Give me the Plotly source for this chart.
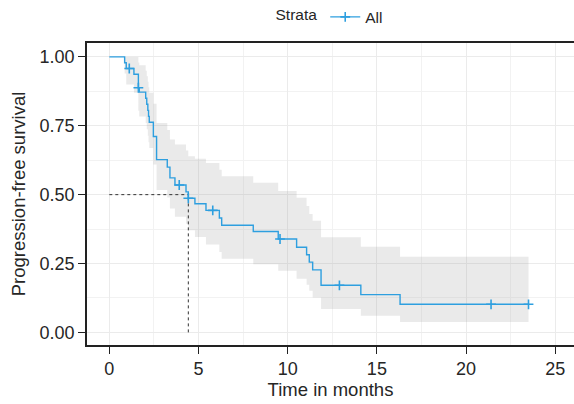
import numpy as np
import plotly.graph_objects as go

# ---- data ----
event_times = [0, 0.86, 0.95, 1.38, 1.63, 1.68, 2.04, 2.10, 2.16, 2.20, 2.24, 2.47, 2.65,
               3.25, 3.40, 3.68, 4.30, 4.43, 4.80, 5.42, 6.17, 6.30, 8.07, 9.47, 10.50,
               11.06, 11.21, 11.40, 11.87, 14.10, 16.30]
survival = [1.0, 0.979, 0.958, 0.937, 0.888, 0.872, 0.850, 0.828, 0.806, 0.784, 0.763, 0.711, 0.627,
            0.600, 0.561, 0.535, 0.510, 0.487, 0.467, 0.443, 0.415, 0.389, 0.366, 0.339, 0.309,
            0.282, 0.255, 0.227, 0.171, 0.137, 0.102]
upper_ci = [1.0, 1.0, 1.0, 1.0, 0.98, 0.97, 0.95, 0.93, 0.91, 0.89, 0.87, 0.83, 0.76,
            0.735, 0.70, 0.682, 0.66, 0.639, 0.63, 0.615, 0.59, 0.567, 0.543, 0.513, 0.489,
            0.459, 0.43, 0.405, 0.345, 0.311, 0.275]
lower_ci = [1.0, 0.94, 0.90, 0.87, 0.805, 0.784, 0.76, 0.737, 0.714, 0.69, 0.669, 0.609, 0.517,
            0.49, 0.45, 0.42, 0.394, 0.371, 0.346, 0.319, 0.292, 0.267, 0.247, 0.224, 0.195,
            0.173, 0.151, 0.127, 0.085, 0.060, 0.038]
last_time = 23.5
censor_times = [1.12, 1.63, 3.92, 4.43, 5.80, 9.57, 12.90, 21.40, 23.50]
median_time = 4.43
median_level = 0.5
x_ticks = [0, 5, 10, 15, 20, 25]
y_ticks = [0.0, 0.25, 0.50, 0.75, 1.00]
y_tick_labels = ["0.00", "0.25", "0.50", "0.75", "1.00"]
strata_name = "All"

# ---- build step arrays ----
t_step = list(event_times) + [last_time]
s_step = list(survival) + [survival[-1]]
u_step = list(upper_ci) + [upper_ci[-1]]
l_step = list(lower_ci) + [lower_ci[-1]]
idx = np.searchsorted(np.array(event_times), np.array(censor_times), side="right") - 1
censor_s = [survival[i] for i in idx]

COL = "#2E9FDF"
TXT = "#262626"
fig = go.Figure()
fig.add_trace(go.Scatter(x=t_step, y=u_step, mode="lines", line=dict(width=0, shape="hv"),
                         hoverinfo="skip", showlegend=False))
fig.add_trace(go.Scatter(x=t_step, y=l_step, mode="lines", line=dict(width=0, shape="hv"),
                         fill="tonexty", fillcolor="rgba(160,160,160,0.22)",
                         hoverinfo="skip", showlegend=False))
fig.add_trace(go.Scatter(x=[0, median_time], y=[median_level, median_level], mode="lines",
                         line=dict(color="#333333", width=1, dash="3px,3px"), showlegend=False))
fig.add_trace(go.Scatter(x=[median_time, median_time], y=[0, median_level], mode="lines",
                         line=dict(color="#333333", width=1, dash="3px,3px"), showlegend=False))
fig.add_trace(go.Scatter(x=t_step, y=s_step, mode="lines", line=dict(color=COL, width=1.4, shape="hv"),
                         showlegend=False))
fig.add_trace(go.Scatter(x=censor_times, y=censor_s, mode="markers",
                         marker=dict(symbol="cross-thin", size=7, line=dict(color=COL, width=1.6)),
                         showlegend=False))
fig.add_trace(go.Scatter(x=[None], y=[None], mode="lines+markers", name=strata_name,
                         line=dict(color=COL, width=1.4),
                         marker=dict(symbol="cross-thin", size=7, line=dict(color=COL, width=1.6))))

FONT = "Liberation Sans, Arial, Helvetica, sans-serif"
fig.update_layout(
    width=574, height=404,
    margin=dict(l=87, r=0, t=41, b=59),
    paper_bgcolor="white", plot_bgcolor="white",
    font=dict(family=FONT, color=TXT),
    legend=dict(orientation="h", x=0.5, xanchor="center", y=1.085, yanchor="middle",
                title=dict(text="Strata", font=dict(size=15.5)), font=dict(size=15.5),
                itemwidth=30, bgcolor="rgba(0,0,0,0)"),
    xaxis=dict(range=[-1.25, 26.05], tickvals=x_ticks, showline=True, linecolor="#222222",
               linewidth=1.5, mirror=True, ticks="outside", ticklen=7, tickwidth=1.3,
               tickcolor="#222222", tickfont=dict(size=18, color=TXT),
               showgrid=True, gridcolor="#EBEBEB", gridwidth=1,
               minor=dict(dtick=2.5, tick0=0, showgrid=True, gridcolor="#F2F2F2", gridwidth=1),
               zeroline=False,
               title=dict(text="Time in months", font=dict(size=18.5, color=TXT), standoff=5)),
    yaxis=dict(range=[-0.0458, 1.0505], tickvals=y_ticks, ticktext=y_tick_labels, showline=True,
               linecolor="#222222", linewidth=1.5, ticks="outside", ticklen=7, tickwidth=1.3,
               tickcolor="#222222", tickfont=dict(size=18, color=TXT),
               showgrid=True, gridcolor="#EBEBEB", gridwidth=1,
               minor=dict(dtick=0.125, tick0=0, showgrid=True, gridcolor="#F2F2F2", gridwidth=1),
               zeroline=False,
               title=dict(text="Progression-free survival", font=dict(size=18.5, color=TXT), standoff=9)),
)
fig.write_html("out.html")
